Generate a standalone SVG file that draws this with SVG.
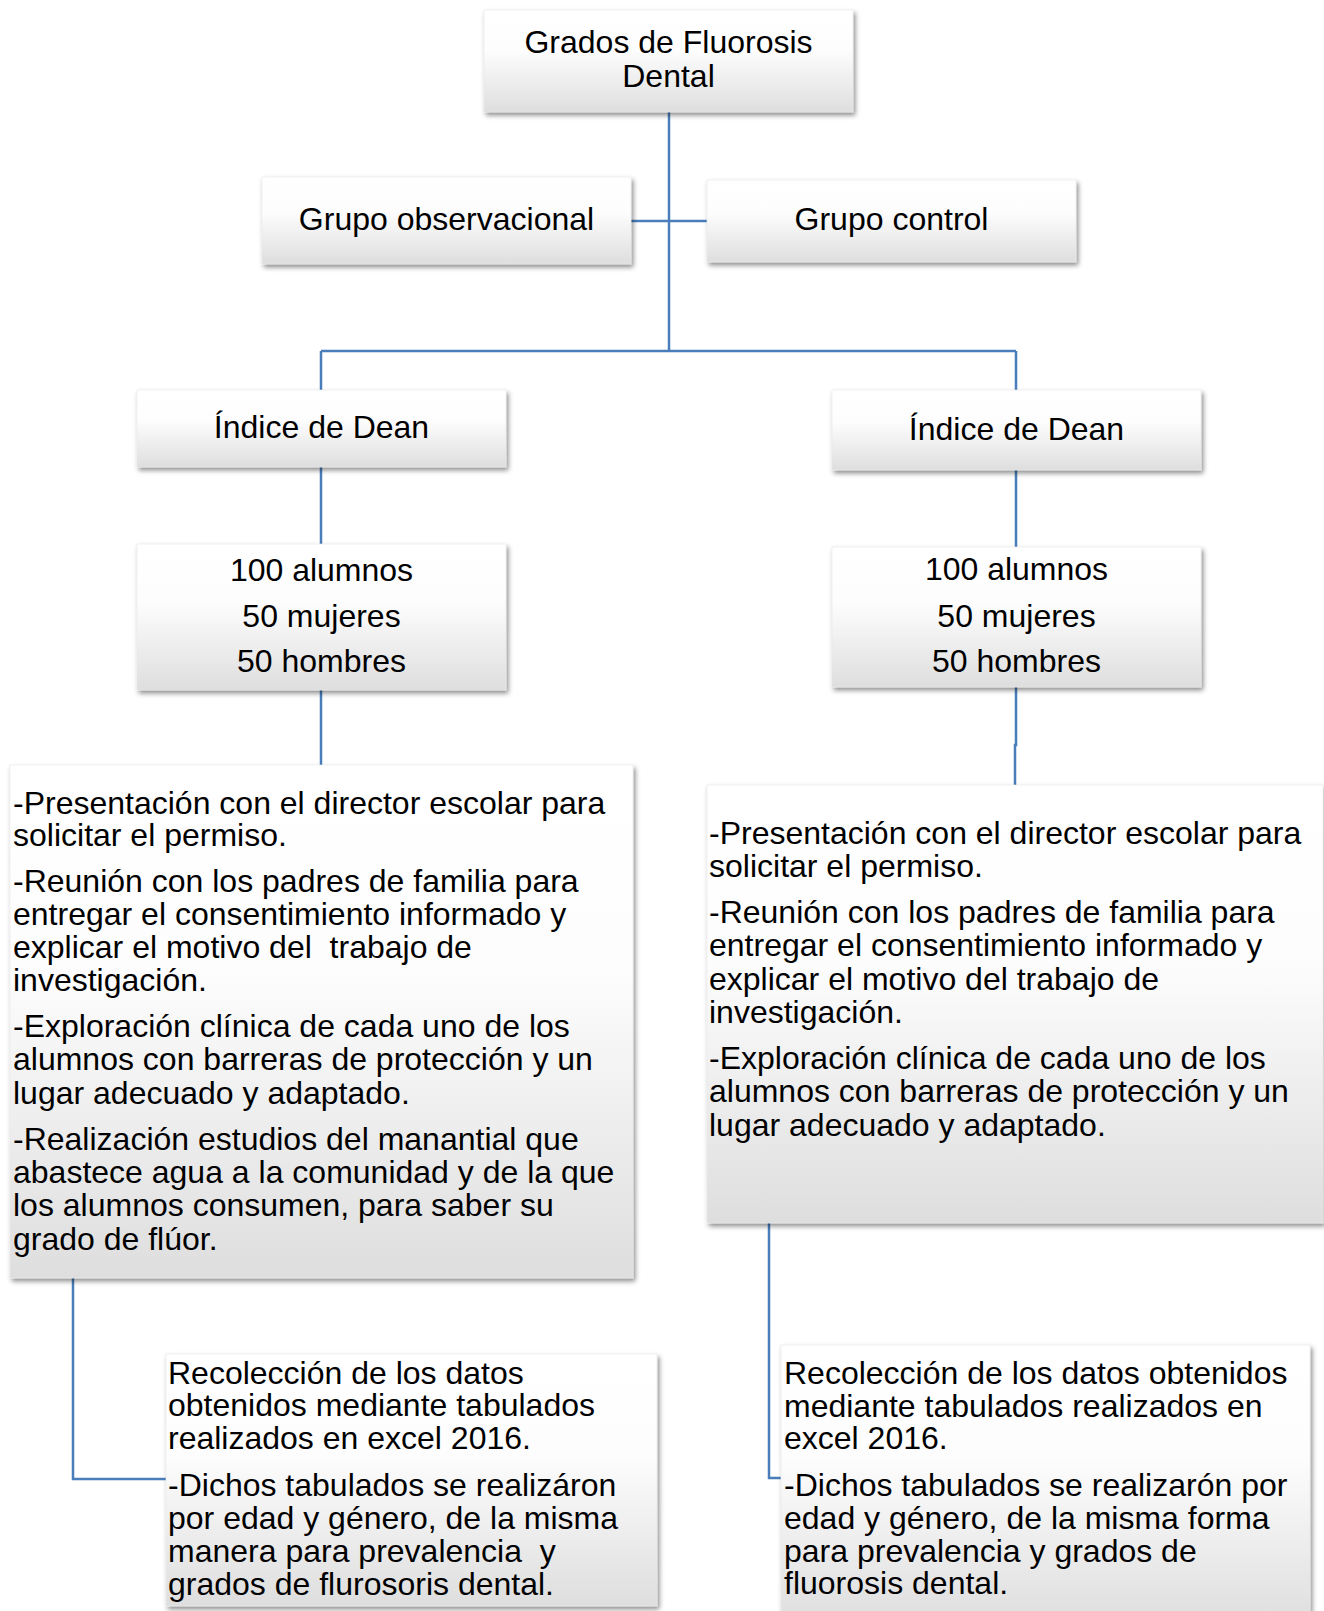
<svg xmlns="http://www.w3.org/2000/svg" width="1324" height="1611" viewBox="0 0 1324 1611">
<defs>
<linearGradient id="fill" x1="0" y1="0" x2="0" y2="1">
<stop offset="0" stop-color="#ffffff"/>
<stop offset="0.4" stop-color="#fdfdfd"/>
<stop offset="1" stop-color="#dedede"/>
</linearGradient>
<filter id="sh" x="-5%" y="-10%" width="115%" height="130%">
<feDropShadow dx="2" dy="3" stdDeviation="2.5" flood-color="#000" flood-opacity="0.45"/>
</filter>
</defs>
<style>
.box{fill:url(#fill);filter:url(#sh);stroke:#e6e6e6;stroke-width:0.6}
.c{fill:#000;font-family:"Liberation Sans",Arial,sans-serif;font-size:32px;text-anchor:middle}
.l{fill:#000;font-family:"Liberation Sans",Arial,sans-serif;font-size:32px;white-space:pre}
.conn{fill:none;stroke:#4a7ebb;stroke-width:2.5}
</style>
<rect width="1324" height="1611" fill="#ffffff"/>
<g id="connectors">
<path class="conn" d="M669 112 V351"/>
<path class="conn" d="M631 221 H707"/>
<path class="conn" d="M321 351 H1016"/>
<path class="conn" d="M321 351 V765"/>
<path class="conn" d="M1016 351 V745 H1015 V785"/>
<path class="conn" d="M73 1278 V1479 H166"/>
<path class="conn" d="M769 1223 V1478 H781"/>
</g>
<g id="n-titulo">
<rect class="box" x="484" y="10" width="369" height="102"/>
<text class="c" x="668.5" y="53">Grados de Fluorosis</text>
<text class="c" x="668.5" y="87">Dental</text>
</g>
<g id="n-observacional">
<rect class="box" x="262" y="177" width="369" height="87"/>
<text class="c" x="446.5" y="230">Grupo observacional</text>
</g>
<g id="n-control">
<rect class="box" x="707" y="180" width="369" height="82"/>
<text class="c" x="891.5" y="230">Grupo control</text>
</g>
<g id="n-dean-izq">
<rect class="box" x="137" y="390" width="369" height="77"/>
<text class="c" x="321.5" y="438">Índice de Dean</text>
</g>
<g id="n-dean-der">
<rect class="box" x="832" y="390" width="369" height="80"/>
<text class="c" x="1016.5" y="440">Índice de Dean</text>
</g>
<g id="n-alumnos-izq">
<rect class="box" x="137" y="544" width="369" height="146"/>
<text class="c" x="321.5" y="581">100 alumnos</text>
<text class="c" x="321.5" y="627">50 mujeres</text>
<text class="c" x="321.5" y="672">50 hombres</text>
</g>
<g id="n-alumnos-der">
<rect class="box" x="832" y="547" width="369" height="140"/>
<text class="c" x="1016.5" y="580">100 alumnos</text>
<text class="c" x="1016.5" y="627">50 mujeres</text>
<text class="c" x="1016.5" y="672">50 hombres</text>
</g>
<g id="n-proceso-izq">
<rect class="box" x="10" y="765" width="623" height="513"/>
<text class="l" x="13" y="814">-Presentación con el director escolar para</text>
<text class="l" x="13" y="846">solicitar el permiso.</text>
<text class="l" x="13" y="892">-Reunión con los padres de familia para</text>
<text class="l" x="13" y="925">entregar el consentimiento informado y</text>
<text class="l" x="13" y="958">explicar el motivo del  trabajo de</text>
<text class="l" x="13" y="991">investigación.</text>
<text class="l" x="13" y="1037">-Exploración clínica de cada uno de los</text>
<text class="l" x="13" y="1070">alumnos con barreras de protección y un</text>
<text class="l" x="13" y="1104">lugar adecuado y adaptado.</text>
<text class="l" x="13" y="1150">-Realización estudios del manantial que</text>
<text class="l" x="13" y="1183">abastece agua a la comunidad y de la que</text>
<text class="l" x="13" y="1216">los alumnos consumen, para saber su</text>
<text class="l" x="13" y="1250">grado de flúor.</text>
</g>
<g id="n-proceso-der">
<rect class="box" x="707" y="785" width="616" height="438"/>
<text class="l" x="709" y="844">-Presentación con el director escolar para</text>
<text class="l" x="709" y="877">solicitar el permiso.</text>
<text class="l" x="709" y="923">-Reunión con los padres de familia para</text>
<text class="l" x="709" y="956">entregar el consentimiento informado y</text>
<text class="l" x="709" y="990">explicar el motivo del trabajo de</text>
<text class="l" x="709" y="1023">investigación.</text>
<text class="l" x="709" y="1069">-Exploración clínica de cada uno de los</text>
<text class="l" x="709" y="1102">alumnos con barreras de protección y un</text>
<text class="l" x="709" y="1136">lugar adecuado y adaptado.</text>
</g>
<g id="n-datos-izq">
<rect class="box" x="166" y="1354" width="491" height="252"/>
<text class="l" x="168" y="1384">Recolección de los datos</text>
<text class="l" x="168" y="1416">obtenidos mediante tabulados</text>
<text class="l" x="168" y="1449">realizados en excel 2016.</text>
<text class="l" x="168" y="1496">-Dichos tabulados se realizáron</text>
<text class="l" x="168" y="1529">por edad y género, de la misma</text>
<text class="l" x="168" y="1562">manera para prevalencia  y</text>
<text class="l" x="168" y="1595">grados de flurosoris dental.</text>
</g>
<g id="n-datos-der">
<rect class="box" x="781" y="1345" width="529" height="280"/>
<text class="l" x="784" y="1384">Recolección de los datos obtenidos</text>
<text class="l" x="784" y="1417">mediante tabulados realizados en</text>
<text class="l" x="784" y="1449">excel 2016.</text>
<text class="l" x="784" y="1496">-Dichos tabulados se realizarón por</text>
<text class="l" x="784" y="1529">edad y género, de la misma forma</text>
<text class="l" x="784" y="1562">para prevalencia y grados de</text>
<text class="l" x="784" y="1594">fluorosis dental.</text>
</g>
</svg>
